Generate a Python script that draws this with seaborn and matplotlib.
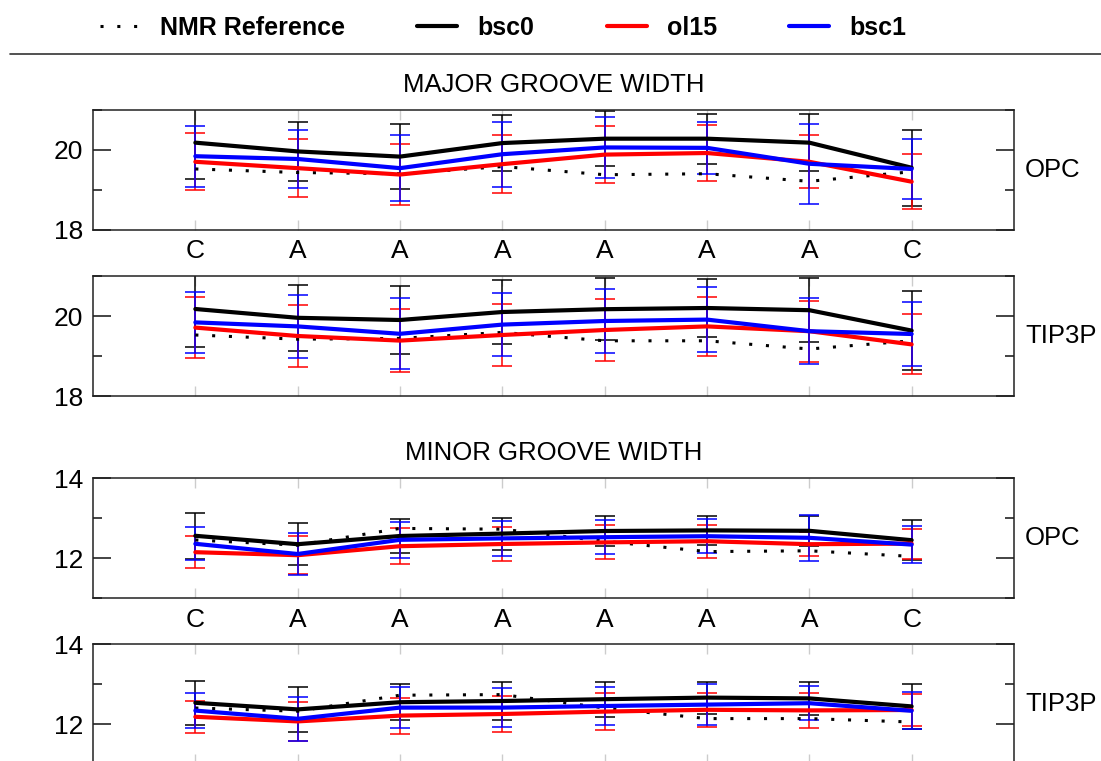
import numpy as np
import pandas as pd
import matplotlib
matplotlib.use("Agg")
import matplotlib.pyplot as plt
from matplotlib.lines import Line2D
from matplotlib.ticker import MultipleLocator
import seaborn as sns

sns.set_style("ticks")
plt.rcParams['font.family'] = ['Liberation Sans', 'DejaVu Sans']
plt.rcParams['text.color'] = 'black'

# Secuencia (bases) y posiciones
bases = ["C", "A", "A", "A", "A", "A", "A", "C"]
positions = [1, 2, 3, 4, 5, 6, 7, 8]

series_names = ["NMR Reference", "bsc0", "ol15", "bsc1"]
series_colors = ["#000000", "#000000", "#ff0000", "#0000ff"]

# Major groove, OPC
major_opc_nmr = [19.52, 19.43, 19.40, 19.58, 19.375, 19.40, 19.21, 19.45]
major_opc_bsc0 = [20.18, 19.96, 19.83, 20.17, 20.28, 20.28, 20.18, 19.55]
major_opc_bsc0_sd = [0.91, 0.745, 0.825, 0.70, 0.69, 0.625, 0.72, 0.95]
major_opc_ol15 = [19.70, 19.54, 19.38, 19.64, 19.88, 19.92, 19.70, 19.20]
major_opc_ol15_sd = [0.72, 0.73, 0.755, 0.725, 0.72, 0.695, 0.67, 0.69]
major_opc_bsc1 = [19.84, 19.77, 19.54, 19.89, 20.06, 20.05, 19.65, 19.52]
major_opc_bsc1_sd = [0.77, 0.72, 0.825, 0.815, 0.76, 0.655, 1.0, 0.75]

# Major groove, TIP3P
major_tip_nmr = [19.525, 19.42, 19.44, 19.59, 19.38, 19.38, 19.175, 19.38]
major_tip_bsc0 = [20.175, 19.955, 19.90, 20.10, 20.17, 20.20, 20.145, 19.635]
major_tip_bsc0_sd = [0.94, 0.82, 0.85, 0.81, 0.78, 0.73, 0.80, 0.99]
major_tip_ol15 = [19.71, 19.50, 19.385, 19.525, 19.65, 19.74, 19.62, 19.29]
major_tip_ol15_sd = [0.76, 0.78, 0.78, 0.765, 0.77, 0.745, 0.76, 0.75]
major_tip_bsc1 = [19.84, 19.74, 19.555, 19.785, 19.875, 19.91, 19.62, 19.55]
major_tip_bsc1_sd = [0.77, 0.78, 0.89, 0.78, 0.80, 0.82, 0.83, 0.80]

# Minor groove, OPC
minor_opc_nmr = [12.45, 12.32, 12.74, 12.72, 12.42, 12.16, 12.18, 12.04]
minor_opc_bsc0 = [12.555, 12.345, 12.55, 12.61, 12.675, 12.69, 12.68, 12.445]
minor_opc_bsc0_sd = [0.575, 0.525, 0.42, 0.40, 0.375, 0.36, 0.37, 0.50]
minor_opc_ol15 = [12.145, 12.07, 12.295, 12.35, 12.39, 12.42, 12.345, 12.36]
minor_opc_ol15_sd = [0.395, 0.48, 0.445, 0.42, 0.425, 0.415, 0.30, 0.375]
minor_opc_bsc1 = [12.355, 12.10, 12.455, 12.49, 12.52, 12.545, 12.505, 12.335]
minor_opc_bsc1_sd = [0.415, 0.53, 0.45, 0.445, 0.43, 0.43, 0.57, 0.465]

# Minor groove, TIP3P
minor_tip_nmr = [12.40, 12.32, 12.72, 12.735, 12.40, 12.135, 12.135, 12.05]
minor_tip_bsc0 = [12.53, 12.365, 12.545, 12.575, 12.62, 12.66, 12.64, 12.44]
minor_tip_bsc0_sd = [0.555, 0.555, 0.45, 0.47, 0.435, 0.40, 0.41, 0.56]
minor_tip_ol15 = [12.18, 12.065, 12.21, 12.25, 12.31, 12.355, 12.34, 12.35]
minor_tip_ol15_sd = [0.395, 0.49, 0.45, 0.455, 0.46, 0.425, 0.435, 0.40]
minor_tip_bsc1 = [12.335, 12.13, 12.41, 12.41, 12.45, 12.485, 12.52, 12.33]
minor_tip_bsc1_sd = [0.43, 0.555, 0.51, 0.48, 0.48, 0.51, 0.42, 0.46]

panels = [
    ("OPC", (18, 21), major_opc_nmr,
     [(major_opc_bsc0, major_opc_bsc0_sd), (major_opc_ol15, major_opc_ol15_sd), (major_opc_bsc1, major_opc_bsc1_sd)]),
    ("TIP3P", (18, 21), major_tip_nmr,
     [(major_tip_bsc0, major_tip_bsc0_sd), (major_tip_ol15, major_tip_ol15_sd), (major_tip_bsc1, major_tip_bsc1_sd)]),
    ("OPC", (11, 14), minor_opc_nmr,
     [(minor_opc_bsc0, minor_opc_bsc0_sd), (minor_opc_ol15, minor_opc_ol15_sd), (minor_opc_bsc1, minor_opc_bsc1_sd)]),
    ("TIP3P", (11, 14), minor_tip_nmr,
     [(minor_tip_bsc0, minor_tip_bsc0_sd), (minor_tip_ol15, minor_tip_ol15_sd), (minor_tip_bsc1, minor_tip_bsc1_sd)]),
]

W, H = 1101, 761
fig = plt.figure(figsize=(W / 100, H / 100), dpi=100)

# (top, bottom) en pixeles de cada panel
boxes = [(110, 229.5), (276, 396), (478, 598), (644, 764)]
left_px, right_px = 93, 1014

axes = []
for (top, bot) in boxes:
    ax = fig.add_axes([left_px / W, 1 - bot / H, (right_px - left_px) / W, (bot - top) / H])
    axes.append(ax)

for i, (ax, (label, ylim, nmr, sims)) in enumerate(zip(axes, panels)):
    # barras de error primero (negro, rojo, azul)
    for (vals, sd), color in zip(sims, series_colors[1:]):
        ax.errorbar(positions, vals, yerr=sd, fmt='none', ecolor=color,
                    elinewidth=1.1, capsize=7, capthick=1.1, zorder=2)
    sns.lineplot(x=positions, y=nmr, color='black', linewidth=2.2,
                 linestyle=(0, (1, 4.5)), dash_capstyle='butt', ax=ax, zorder=3)
    for (vals, sd), color in zip(sims, series_colors[1:]):
        sns.lineplot(x=positions, y=vals, color=color, linewidth=3.0, ax=ax, zorder=4)

    ax.set_xlim(0, 9)
    ax.set_ylim(*ylim)
    ax.set_xticks(positions)
    ax.yaxis.set_major_locator(MultipleLocator(2))
    ax.yaxis.set_minor_locator(MultipleLocator(1))
    ax.tick_params(axis='x', direction='in', top=True, bottom=True, length=7,
                   width=1, color='#cccccc', labelcolor='black', labelsize=19, pad=7)
    ax.tick_params(axis='y', which='major', direction='in', left=True, right=True,
                   length=13, width=1.1, color='#111111', labelcolor='black',
                   labelsize=19, pad=7)
    ax.tick_params(axis='y', which='minor', direction='in', left=True, right=True,
                   length=6.5, width=1.1, color='#111111')
    if i in (0, 2):
        ax.set_xticklabels(bases)
    else:
        ax.set_xticklabels([])
    ax.set_xlabel('')
    ax.set_ylabel('')
    for sp in ax.spines.values():
        sp.set_color('#222222')
        sp.set_linewidth(1.1)
    ax.text(1 + 11 / (right_px - left_px), 0.5, label,
            transform=ax.transAxes, ha='left', va='center', fontsize=18.5)

axes[0].set_title("MAJOR GROOVE WIDTH", fontsize=18.5, pad=13)
axes[2].set_title("MINOR GROOVE WIDTH", fontsize=18.5, pad=13)

# leyenda superior
handles = [
    Line2D([], [], color='black', linewidth=2.2, linestyle=(0, (1, 4.5)), dash_capstyle='butt'),
    Line2D([], [], color='black', linewidth=3.0),
    Line2D([], [], color='#ff0000', linewidth=3.0),
    Line2D([], [], color='#0000ff', linewidth=3.0),
]
fig.legend(handles, series_names, loc='center', bbox_to_anchor=(503 / W, 1 - 28 / H),
           ncol=4, frameon=False, prop={'weight': 'bold', 'size': 18},
           handlelength=1.6, handletextpad=0.8, columnspacing=2.9)
fig.add_artist(Line2D([10 / W, 1], [1 - 54 / H, 1 - 54 / H], transform=fig.transFigure,
                      color='#333333', linewidth=1.2))

fig.savefig('out.png', dpi=100)
